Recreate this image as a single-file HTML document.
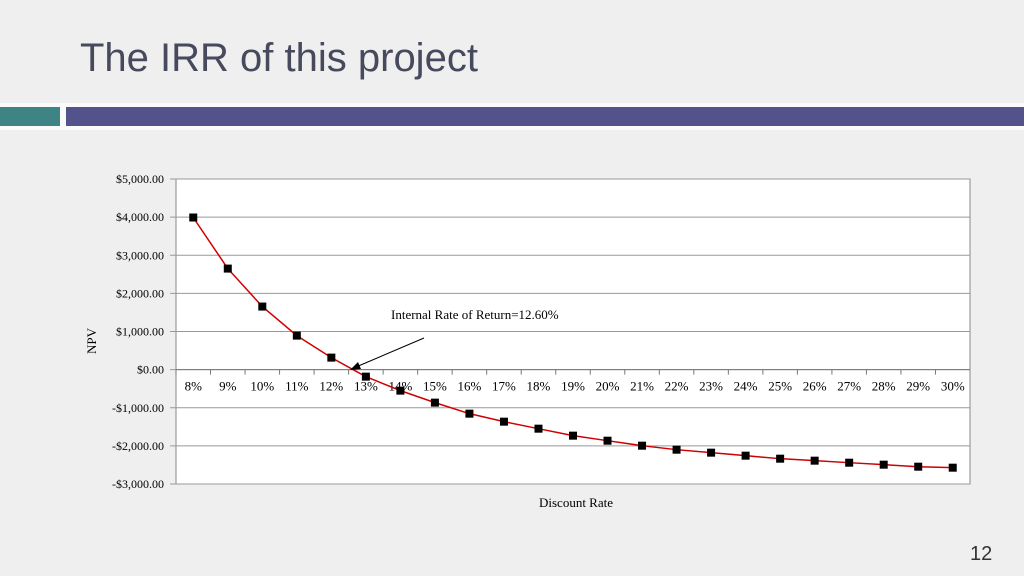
<!DOCTYPE html>
<html><head><meta charset="utf-8"><style>
body{margin:0;width:1024px;height:576px;background:#efefef;overflow:hidden;position:relative;font-family:"Liberation Sans",sans-serif}
.t{position:absolute;left:80px;top:36px;font-size:40px;color:#474a5c}
</style></head><body>
<div class="t">The IRR of this project</div>
<div style="position:absolute;left:0;top:103px;width:1024px;height:27px;background:#fafafa"></div>
<div style="position:absolute;left:0;top:107px;width:60px;height:19px;background:#3e8484"></div>
<div style="position:absolute;left:66px;top:107px;width:958px;height:19px;background:#53528a"></div>
<div style="position:absolute;left:970px;top:543px;font-size:20px;color:#333">12</div>
<svg id="c" width="1024" height="576" style="position:absolute;left:0;top:0"></svg>
<script>
const categories=["8%","9%","10%","11%","12%","13%","14%","15%","16%","17%","18%","19%","20%","21%","22%","23%","24%","25%","26%","27%","28%","29%","30%"];
const npv=[3990,2650,1654,892,315,-184,-551,-866,-1155,-1365,-1549,-1732,-1864,-1995,-2100,-2178,-2257,-2336,-2388,-2441,-2493,-2546,-2572];
const yTicks=[5000,4000,3000,2000,1000,0,-1000,-2000,-3000];
const yLabels=["$5,000.00","$4,000.00","$3,000.00","$2,000.00","$1,000.00","$0.00","-$1,000.00","-$2,000.00","-$3,000.00"];
const L=176,R=970,T=179,B=484,ymin=-3000,ymax=5000;
const y=v=>B-(v-ymin)/(ymax-ymin)*(B-T);
const bw=(R-L)/categories.length;
const x=i=>L+bw*(i+0.5);
const s=document.getElementById('c');const NS="http://www.w3.org/2000/svg";
function mk(t,a,p){const e=document.createElementNS(NS,t);for(const k in a)e.setAttribute(k,a[k]);(p||s).appendChild(e);return e;}
let e=mk('rect',{x:L,y:T,width:R-L,height:B-T,fill:'#fff',stroke:'#888','stroke-width':1});


yTicks.forEach((v,i)=>{
 let g=mk('line',{x1:L-6,x2:R,y1:y(v),y2:y(v),stroke:'#999','stroke-width':1});
 
 
 let t=mk('text',{x:L-12,y:y(v)+4,'text-anchor':'end','font-family':'Liberation Serif, serif','font-size':12,fill:'#000'});
 t.textContent=yLabels[i];
 
 
});
let z=mk('line',{x1:L,x2:R,y1:y(0),y2:y(0),stroke:'#777','stroke-width':1});


categories.forEach((c,i)=>{
 let tk=mk('line',{x1:L+bw*i,x2:L+bw*i,y1:y(0),y2:y(0)+5,stroke:'#777'});
 
 
 let t=mk('text',{x:x(i),y:y(0)+21,'text-anchor':'middle','font-family':'Liberation Serif, serif','font-size':13,fill:'#000'});
 t.textContent=c;
 
 
});
let ln=mk('polyline',{points:npv.map((v,i)=>x(i)+','+y(v)).join(' '),fill:'none',stroke:'#d00000','stroke-width':1.5});


npv.forEach((v,i)=>{
 let m=mk('rect',{x:x(i)-4,y:y(v)-4,width:8,height:8,fill:'#000'});
 
 
});
let yt=mk('text',{x:96,y:341,transform:'rotate(-90 96 341)','text-anchor':'middle','font-family':'Liberation Serif, serif','font-size':13});
yt.textContent='NPV';


let xt=mk('text',{x:576,y:507,'text-anchor':'middle','font-family':'Liberation Serif, serif','font-size':13});
xt.textContent='Discount Rate';


let an=mk('text',{x:391,y:319,'font-family':'Liberation Serif, serif','font-size':13});
an.textContent='Internal Rate of Return=12.60%';


let ar=mk('line',{x1:424,y1:338,x2:356,y2:367,stroke:'#000','stroke-width':1});


let ah=mk('polygon',{points:'350,370 358,362 361,369',fill:'#000'});


</script>
</body></html>
